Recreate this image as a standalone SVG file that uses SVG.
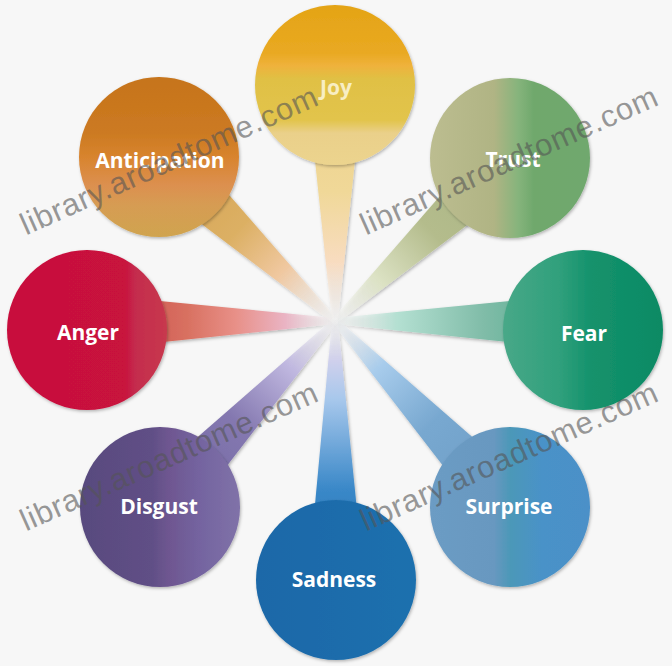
<svg xmlns="http://www.w3.org/2000/svg" width="672" height="666" viewBox="0 0 672 666">
<defs>
<style>
.lbl{font-family:"Open Sans","Liberation Sans",sans-serif;font-weight:700;font-size:21px;fill:#ffffff;text-anchor:middle}
.wm{font-family:"Liberation Sans",Arial,sans-serif;font-size:31px;fill:#555555;fill-opacity:0.6;text-anchor:middle}
</style>
<filter id="sh" x="-20%" y="-20%" width="140%" height="140%">
<feDropShadow dx="1" dy="1.5" stdDeviation="1.6" flood-color="#000" flood-opacity="0.28"/>
</filter>
<linearGradient id="gJoy" x1="0" y1="0" x2="0" y2="1">
<stop offset="0" stop-color="#e4a416"/><stop offset="0.3" stop-color="#e9a922"/><stop offset="0.38" stop-color="#efb23c"/><stop offset="0.46" stop-color="#e0c044"/><stop offset="0.72" stop-color="#e2c44c"/><stop offset="0.8" stop-color="#ead08a"/><stop offset="1" stop-color="#ecd48e"/>
</linearGradient>
<linearGradient id="gAnt" x1="0" y1="0" x2="0" y2="1">
<stop offset="0" stop-color="#c6741a"/><stop offset="0.35" stop-color="#cc7a22"/><stop offset="0.5" stop-color="#d8842e"/><stop offset="0.68" stop-color="#dc9050"/><stop offset="0.8" stop-color="#d69c52"/><stop offset="1" stop-color="#d0a450"/>
</linearGradient>
<linearGradient id="gTrust" x1="0" y1="0" x2="1" y2="0">
<stop offset="0" stop-color="#bcbd90"/><stop offset="0.4" stop-color="#b0b484"/><stop offset="0.55" stop-color="#86b47c"/><stop offset="0.65" stop-color="#6fa86c"/><stop offset="1" stop-color="#70a86e"/>
</linearGradient>
<linearGradient id="gFear" x1="0" y1="0" x2="1" y2="0">
<stop offset="0" stop-color="#48a888"/><stop offset="0.35" stop-color="#30a07c"/><stop offset="0.55" stop-color="#14926c"/><stop offset="1" stop-color="#0c8a64"/>
</linearGradient>
<linearGradient id="gAnger" x1="0" y1="0" x2="1" y2="0">
<stop offset="0" stop-color="#c8103c"/><stop offset="0.74" stop-color="#c8123e"/><stop offset="0.8" stop-color="#c42c4e"/><stop offset="1" stop-color="#c8384e"/>
</linearGradient>
<linearGradient id="gDis" x1="0" y1="0" x2="1" y2="0">
<stop offset="0" stop-color="#584a7e"/><stop offset="0.45" stop-color="#604f86"/><stop offset="0.55" stop-color="#6e5690"/><stop offset="0.75" stop-color="#7464a0"/><stop offset="1" stop-color="#8072a8"/>
</linearGradient>
<linearGradient id="gSad" x1="0" y1="0" x2="1" y2="0">
<stop offset="0" stop-color="#1a68a8"/><stop offset="1" stop-color="#1e70ae"/>
</linearGradient>
<linearGradient id="gSur" x1="0" y1="0" x2="1" y2="0">
<stop offset="0" stop-color="#6c9cc4"/><stop offset="0.4" stop-color="#6898c0"/><stop offset="0.5" stop-color="#4c98b8"/><stop offset="0.7" stop-color="#4a92c8"/><stop offset="1" stop-color="#4b90c8"/>
</linearGradient>
<linearGradient id="tJoy" gradientUnits="userSpaceOnUse" x1="335" y1="85" x2="335" y2="321">
<stop offset="0" stop-color="#ecd08a"/><stop offset="0.45" stop-color="#f0d898"/><stop offset="0.75" stop-color="#f8dcc0"/><stop offset="1" stop-color="#f4f4f4" stop-opacity="0.3"/>
</linearGradient>
<linearGradient id="tAnt" gradientUnits="userSpaceOnUse" x1="159" y1="157" x2="335" y2="321">
<stop offset="0" stop-color="#d4a050"/><stop offset="0.45" stop-color="#dcb064"/><stop offset="0.7" stop-color="#f0c8a0"/><stop offset="1" stop-color="#f4f4f4" stop-opacity="0.3"/>
</linearGradient>
<linearGradient id="tTrust" gradientUnits="userSpaceOnUse" x1="510" y1="158" x2="335" y2="321">
<stop offset="0" stop-color="#a8b484"/><stop offset="0.45" stop-color="#b4bc8c"/><stop offset="0.75" stop-color="#dce2c4"/><stop offset="1" stop-color="#f4f4f4" stop-opacity="0.3"/>
</linearGradient>
<linearGradient id="tFear" gradientUnits="userSpaceOnUse" x1="583" y1="322" x2="335" y2="322">
<stop offset="0" stop-color="#48a888"/><stop offset="0.4" stop-color="#80bca8"/><stop offset="0.75" stop-color="#b4e0d2"/><stop offset="1" stop-color="#f0f0f0" stop-opacity="0.3"/>
</linearGradient>
<linearGradient id="tAnger" gradientUnits="userSpaceOnUse" x1="87" y1="322" x2="335" y2="322">
<stop offset="0" stop-color="#c84048"/><stop offset="0.4" stop-color="#d87060"/><stop offset="0.6" stop-color="#e89088"/><stop offset="0.8" stop-color="#eab4c4"/><stop offset="1" stop-color="#f0f0f0" stop-opacity="0.3"/>
</linearGradient>
<linearGradient id="tDis" gradientUnits="userSpaceOnUse" x1="160" y1="507" x2="335" y2="321">
<stop offset="0" stop-color="#7064a0"/><stop offset="0.45" stop-color="#8478b0"/><stop offset="0.75" stop-color="#c0b8e0"/><stop offset="1" stop-color="#f0f0f0" stop-opacity="0.3"/>
</linearGradient>
<linearGradient id="tSad" gradientUnits="userSpaceOnUse" x1="336" y1="580" x2="335" y2="321">
<stop offset="0" stop-color="#1e72b0"/><stop offset="0.35" stop-color="#3a88c8"/><stop offset="0.7" stop-color="#a8c8ec"/><stop offset="0.85" stop-color="#d0d0ec"/><stop offset="1" stop-color="#f0f0f0" stop-opacity="0.3"/>
</linearGradient>
<linearGradient id="tSur" gradientUnits="userSpaceOnUse" x1="510" y1="507" x2="335" y2="321">
<stop offset="0" stop-color="#6c9cc4"/><stop offset="0.45" stop-color="#78a8d0"/><stop offset="0.75" stop-color="#a8ccec"/><stop offset="1" stop-color="#f0f0f0" stop-opacity="0.3"/>
</linearGradient>
</defs>
<rect width="672" height="666" fill="#f7f7f7"/>
<g id="connectors" filter="url(#sh)">
<polygon points="363,85 338,321 332,321 307,85" fill="url(#tJoy)"/>
<polygon points="529.1,178.5 337,323.2 333,318.8 490.9,137.5" fill="url(#tTrust)"/>
<polygon points="583,294 583,350 335,324 335,318" fill="url(#tFear)"/>
<polygon points="530.4,487.8 337.2,318.9 332.8,323.1 489.6,526.2" fill="url(#tSur)"/>
<polygon points="364,580 338,321 332,321 308,580" fill="url(#tSad)"/>
<polygon points="180.4,526.2 337.2,323.1 332.8,318.9 139.6,487.8" fill="url(#tDis)"/>
<polygon points="87,294 87,350 335,324 335,318" fill="url(#tAnger)"/>
<polygon points="139.9,177.5 333,323.2 337,318.8 178.1,136.5" fill="url(#tAnt)"/>
</g>
<g id="joy"><circle cx="335" cy="85" r="80" fill="url(#gJoy)" filter="url(#sh)"/><text class="lbl" x="336" y="95" style="fill:#f8eec4">Joy</text></g>
<g id="trust"><circle cx="510" cy="158" r="80" fill="url(#gTrust)" filter="url(#sh)"/><text class="lbl" x="513" y="167">Trust</text></g>
<g id="fear"><circle cx="583" cy="330" r="80" fill="url(#gFear)" filter="url(#sh)"/><text class="lbl" x="584" y="341">Fear</text></g>
<g id="surprise"><circle cx="510" cy="507" r="80" fill="url(#gSur)" filter="url(#sh)"/><text class="lbl" x="509" y="514">Surprise</text></g>
<g id="sadness"><circle cx="336" cy="580" r="80" fill="url(#gSad)" filter="url(#sh)"/><text class="lbl" x="334" y="587">Sadness</text></g>
<g id="disgust"><circle cx="160" cy="507" r="80" fill="url(#gDis)" filter="url(#sh)"/><text class="lbl" x="159" y="514">Disgust</text></g>
<g id="anger"><circle cx="87" cy="330" r="80" fill="url(#gAnger)" filter="url(#sh)"/><text class="lbl" x="88" y="340">Anger</text></g>
<g id="anticipation"><circle cx="159" cy="157" r="80" fill="url(#gAnt)" filter="url(#sh)"/><text class="lbl" x="160" y="168">Anticipation</text></g>
<g id="watermarks">
<text class="wm" transform="translate(173,170) rotate(-24)" textLength="322">library.aroadtome.com</text>
<text class="wm" transform="translate(513,170) rotate(-24)" textLength="322">library.aroadtome.com</text>
<text class="wm" transform="translate(173,466) rotate(-24)" textLength="322">library.aroadtome.com</text>
<text class="wm" transform="translate(513,466) rotate(-24)" textLength="322">library.aroadtome.com</text>
</g>
</svg>
